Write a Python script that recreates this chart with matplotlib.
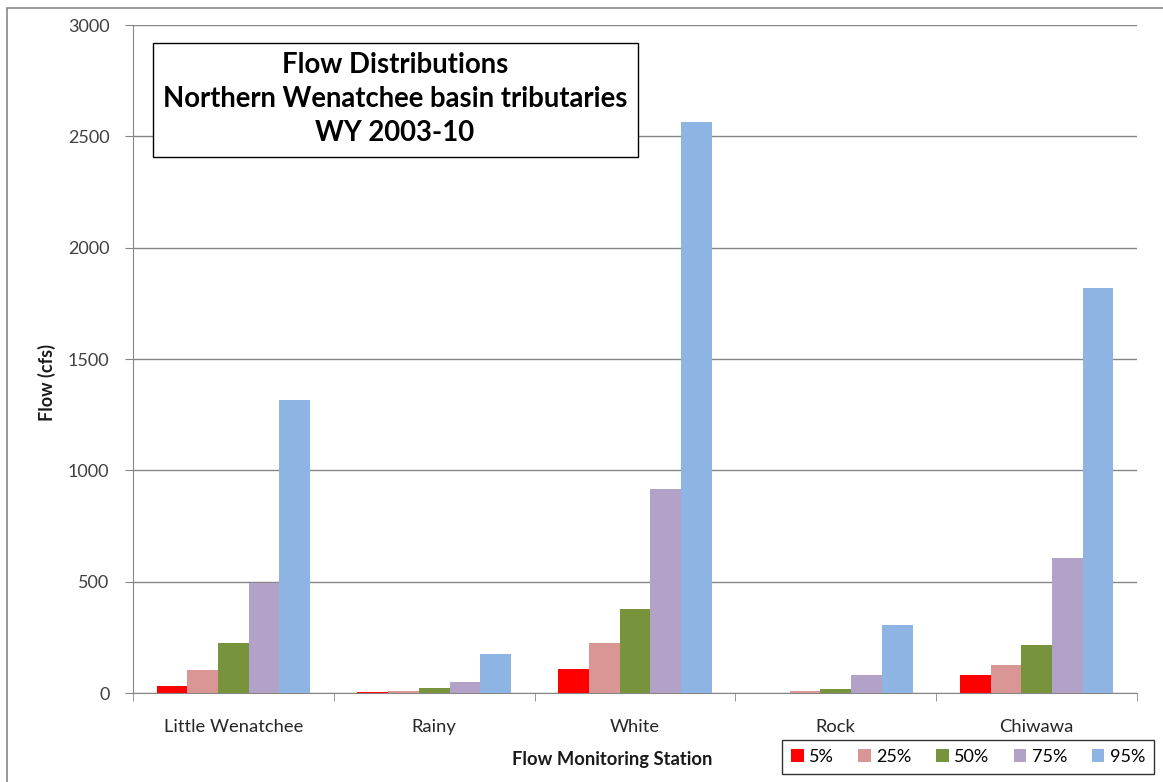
import numpy as np
import matplotlib
matplotlib.use("Agg")
import matplotlib.pyplot as plt
from matplotlib.patches import Rectangle

plt.rcParams['font.family'] = ['Lato', 'DejaVu Sans']

# Data
stations = ["Little Wenatchee", "Rainy", "White", "Rock", "Chiwawa"]
pct_labels = ["5%", "25%", "50%", "75%", "95%"]
flow_5 = [33, 5, 108, 0, 81]
flow_25 = [105, 9, 224, 9, 126]
flow_50 = [224, 24, 377, 19, 216]
flow_75 = [494, 50, 916, 81, 607]
flow_95 = [1316, 176, 2565, 305, 1820]
colors = ["#FF0000", "#D99694", "#77933C", "#B3A2C7", "#8EB4E3"]

series = [flow_5, flow_25, flow_50, flow_75, flow_95]

fig = plt.figure(figsize=(11.63, 7.82), dpi=100)
ax = fig.add_axes([133/1163, 1 - 693/782, (1137-133)/1163, (693-25)/782])

x = np.arange(len(stations))
w = 0.153
for i, (vals, lab, c) in enumerate(zip(series, pct_labels, colors)):
    ax.bar(x + (i - 2) * w, vals, width=w, color=c, label=lab, zorder=3)

ax.set_xlim(-0.5, len(stations) - 0.5)
ax.set_ylim(0, 3000)
ax.set_yticks(np.arange(0, 3001, 500))
ax.set_xticks(x)
ax.set_xticklabels(stations, fontsize=13.2, color="#262626")
ax.set_xticks(np.arange(-0.5, len(stations), 1), minor=True)
ax.tick_params(axis='x', which='major', length=0, pad=19)
ax.tick_params(axis='x', which='minor', length=6, color="#868686", direction='out')
ax.tick_params(axis='y', length=6, color="#868686", labelsize=13, labelcolor="#404040", pad=11)

ax.grid(axis='y', color="#868686", lw=1, zorder=0)
for s in ['top', 'right']:
    ax.spines[s].set_visible(False)
for s in ['left', 'bottom']:
    ax.spines[s].set_color("#868686")

# axis titles
fig.text(612/1163, 1 - 759/782, "Flow Monitoring Station", fontsize=13.2, fontweight='bold',
         ha='center', va='center', color="#1a1a1a")
fig.text(47/1163, 1 - 382/782, "Flow (cfs)", fontsize=13, fontweight='bold', rotation=90,
         ha='center', va='center', color="#1a1a1a")

# title box
fig.patches.append(Rectangle((153/1163, 1 - 157/782), (638-153)/1163, (157-43)/782,
                             transform=fig.transFigure, facecolor='white', edgecolor='black',
                             lw=1, zorder=5))
fig.text(395/1163, 1 - 99/782, "Flow Distributions\nNorthern Wenatchee basin tributaries\nWY 2003-10",
         fontsize=19.8, fontweight='bold', ha='center', va='center', linespacing=1.36, zorder=6)

# outer chart border
fig.patches.append(Rectangle((7/1163, -0.05), 1.1, 1 - 8/782 + 0.05,
                             transform=fig.transFigure, facecolor='none', edgecolor="#868686",
                             lw=1.2))

leg = fig.legend(loc='center', bbox_to_anchor=(968/1163, 1 - 757/782), ncol=5, fontsize=13,
                 frameon=True, fancybox=False, edgecolor='black', handlelength=0.7,
                 handleheight=0.7, handletextpad=0.3, columnspacing=1.35, borderpad=0.5)
leg.get_frame().set_linewidth(1)

fig.savefig("out.png", dpi=100)
